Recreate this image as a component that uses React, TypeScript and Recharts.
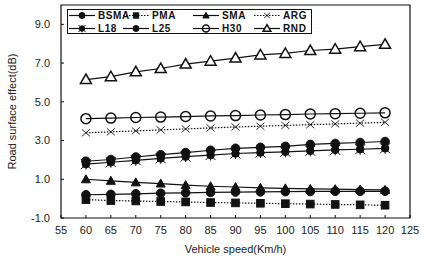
import React from "react";
import { LineChart, Line, XAxis, YAxis, Legend, ReferenceArea } from "recharts";

const speeds = [60, 65, 70, 75, 80, 85, 90, 95, 100, 105, 110, 115, 120];
const bsma = [0.2, 0.22, 0.25, 0.28, 0.3, 0.32, 0.34, 0.35, 0.36, 0.37, 0.38, 0.38, 0.38];
const pma = [-0.05, -0.1, -0.12, -0.15, -0.17, -0.2, -0.22, -0.24, -0.26, -0.28, -0.3, -0.32, -0.34];
const sma = [1.0, 0.92, 0.84, 0.78, 0.7, 0.64, 0.6, 0.56, 0.53, 0.5, 0.49, 0.47, 0.45];
const arg = [3.4, 3.45, 3.5, 3.55, 3.6, 3.65, 3.7, 3.74, 3.78, 3.82, 3.86, 3.9, 3.94];
const l18 = [1.78, 1.88, 1.98, 2.08, 2.17, 2.25, 2.33, 2.38, 2.42, 2.47, 2.52, 2.55, 2.6];
const l25 = [1.93, 2.02, 2.15, 2.27, 2.38, 2.5, 2.6, 2.65, 2.7, 2.8, 2.85, 2.9, 2.95];
const h30 = [4.13, 4.16, 4.19, 4.21, 4.24, 4.27, 4.29, 4.32, 4.34, 4.37, 4.39, 4.41, 4.43];
const rnd = [6.15, 6.3, 6.55, 6.72, 6.95, 7.1, 7.26, 7.42, 7.5, 7.65, 7.72, 7.85, 7.97];

const xTicks = [55, 60, 65, 70, 75, 80, 85, 90, 95, 100, 105, 110, 115, 120, 125];
const yTicks = [-1, 1, 3, 5, 7, 9];

const seriesNames = ["BSMA", "PMA", "SMA", "ARG", "L18", "L25", "H30", "RND"];
const seriesValues: Record<string, number[]> = {
  BSMA: bsma, PMA: pma, SMA: sma, ARG: arg, L18: l18, L25: l25, H30: h30, RND: rnd,
};

const data = speeds.map((s, i) => {
  const row: Record<string, number> = { speed: s };
  seriesNames.forEach((n) => (row[n] = seriesValues[n][i]));
  return row;
});

const INK = "#111";

type Shape = "circle" | "square" | "triangle" | "cross" | "star" | "openCircle" | "openTriangle";
const shapes: Record<string, Shape> = {
  BSMA: "circle", PMA: "square", SMA: "triangle", ARG: "cross",
  L18: "star", L25: "circle", H30: "openCircle", RND: "openTriangle",
};
const dashes: Record<string, string | undefined> = {
  PMA: "1.5 1.5", ARG: "1.5 1.5",
};

function marker(shape: Shape, cx: number, cy: number, key: string, s = 1) {
  switch (shape) {
    case "circle":
      return <circle key={key} cx={cx} cy={cy} r={4.3 * s} fill={INK} stroke={INK} />;
    case "square":
      return <rect key={key} x={cx - 3.8 * s} y={cy - 3.8 * s} width={7.6 * s} height={7.6 * s} fill={INK} stroke={INK} />;
    case "triangle":
      return (
        <polygon key={key} fill={INK} stroke={INK}
          points={`${cx},${cy - 4.5 * s} ${cx - 4.5 * s},${cy + 3.5 * s} ${cx + 4.5 * s},${cy + 3.5 * s}`} />
      );
    case "cross":
      return (
        <g key={key} stroke={INK} strokeWidth={0.9}>
          <line x1={cx - 4 * s} y1={cy - 3.5 * s} x2={cx + 4 * s} y2={cy + 3.5 * s} />
          <line x1={cx + 4 * s} y1={cy - 3.5 * s} x2={cx - 4 * s} y2={cy + 3.5 * s} />
        </g>
      );
    case "star":
      return (
        <g key={key} stroke={INK} strokeWidth={1}>
          <circle cx={cx} cy={cy} r={3.8 * s} fill={INK} />
          <line x1={cx - 5 * s} y1={cy + 5 * s} x2={cx + 5 * s} y2={cy - 5 * s} />
          <line x1={cx + 5 * s} y1={cy + 5 * s} x2={cx - 5 * s} y2={cy - 5 * s} />
          <line x1={cx} y1={cy} x2={cx} y2={cy + 5.5 * s} />
        </g>
      );
    case "openCircle":
      return <circle key={key} cx={cx} cy={cy} r={5 * s} fill="none" stroke={INK} strokeWidth={1.5} />;
    case "openTriangle":
      return (
        <polygon key={key} fill="#fff" stroke={INK} strokeWidth={1.5}
          points={`${cx},${cy - 5.5 * s} ${cx - 5.5 * s},${cy + 4 * s} ${cx + 5.5 * s},${cy + 4 * s}`} />
      );
  }
}

const makeDot = (name: string) => (props: any) => {
  const { cx, cy, index } = props;
  if (cx == null || cy == null) return <g key={`${name}-${index}`} />;
  return marker(shapes[name], cx, cy, `${name}-${index}`);
};

const colX = [1, 55, 125, 186];
const rowY = [5, 18];

const LegendBox = (props: any) => {
  const payload: any[] = props.payload || [];
  const names = payload.map((e) => String(e.value));
  const ordered = seriesNames.filter((n) => names.includes(n));
  return (
    <div style={{ position: "relative", width: 245, height: 25, border: `1px solid ${INK}`, background: "#fff", boxSizing: "border-box" }}>
      <svg width={245} height={25} style={{ position: "absolute", left: 0, top: 0 }}>
        {ordered.map((name: string, i: number) => {
          const x = colX[i % 4];
          const y = rowY[Math.floor(i / 4)] + 0.5;
          return (
            <g key={name}>
              <line x1={x} y1={y} x2={x + 26} y2={y} stroke={INK} strokeWidth={1.2}
                strokeDasharray={dashes[name]} />
              {marker(shapes[name], x + 13, y, `lg-${name}`, 0.7)}
              <text x={x + 29} y={y + 3.6} fontSize={10} fontWeight={700} fill={INK}
                fontFamily="Liberation Sans, Arial, sans-serif" letterSpacing={0.6}>{name}</text>
            </g>
          );
        })}
      </svg>
    </div>
  );
};

const font = "Liberation Sans, Arial, sans-serif";

export default function App() {
  return (
    <div style={{ position: "absolute", left: 0, top: 0, width: 421, height: 261, background: "#fff" }}>
      <LineChart width={421} height={261} data={data}
        margin={{ top: 5, right: 11, bottom: 19, left: 0 }}>
        <ReferenceArea x1={55} x2={125} y1={-1} y2={10} fill="none" stroke={INK} strokeWidth={1.2} />
        <XAxis dataKey="speed" type="number" domain={[55, 125]} ticks={xTicks}
          allowDataOverflow axisLine={false} tickSize={-3} tickLine={{ stroke: INK }}
          tickMargin={11} height={24}
          tick={{ fontSize: 11, fill: "#222", fontFamily: font }}
          label={{ value: "Vehicle speed(Km/h)", position: "bottom", offset: 3, fontSize: 11, fill: "#222", fontFamily: font }} />
        <YAxis type="number" domain={[-1, 10]} ticks={yTicks} allowDataOverflow
          axisLine={false} width={61} tickSize={-3} tickLine={{ stroke: INK }} tickMargin={14}
          tickFormatter={(v: number) => v.toFixed(1)}
          tick={{ fontSize: 11, fill: "#222", fontFamily: font }}
          label={{ value: "Road surface effect(dB)", angle: -90, position: "center", dx: -18, fontSize: 11, fill: "#222", fontFamily: font }} />
        <Legend layout="vertical" align="center" verticalAlign="middle"
          content={<LegendBox />}
          wrapperStyle={{ position: "absolute", left: 67, top: 9, width: 245, height: 25, bottom: "auto", right: "auto", margin: 0 }} />
        {seriesNames.map((n) => (
          <Line key={n} dataKey={n} name={n} type="linear" stroke={INK} strokeWidth={1.2}
            strokeDasharray={dashes[n]} dot={makeDot(n)} activeDot={false}
            isAnimationActive={false} />
        ))}
      </LineChart>
    </div>
  );
}
